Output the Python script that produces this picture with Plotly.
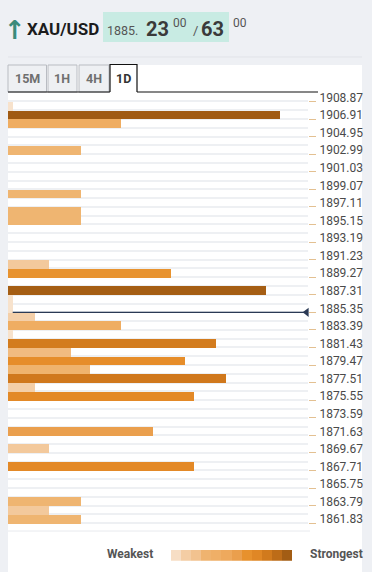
import plotly.graph_objects as go

W, H = 372, 572

# ---------------- data ----------------
# price levels (row centres) and their confluence strength
levels = [1908.38, 1907.40, 1906.42, 1903.48, 1898.58, 1896.62, 1895.64,
          1890.74, 1889.76, 1887.80, 1886.82, 1885.84, 1884.86, 1883.88,
          1882.90, 1881.92, 1880.94, 1879.96, 1878.98, 1878.00, 1877.02,
          1876.04, 1872.12, 1870.16, 1868.20, 1864.28, 1863.30, 1862.32]
strength = [1, 60, 25, 16, 16, 16, 16,
            9, 36, 57, 1, 1, 6, 25,
            1, 46, 14, 39, 18, 48, 6,
            41, 32, 9, 41, 16, 9, 16]

tick_prices = [1908.87, 1906.91, 1904.95, 1902.99, 1901.03, 1899.07, 1897.11,
               1895.15, 1893.19, 1891.23, 1889.27, 1887.31, 1885.35, 1883.39,
               1881.43, 1879.47, 1877.51, 1875.55, 1873.59, 1871.63, 1869.67,
               1867.71, 1865.75, 1863.79, 1861.83]
tick_labels = ["1908.87", "1906.91", "1904.95", "1902.99", "1901.03", "1899.07",
               "1897.11", "1895.15", "1893.19", "1891.23", "1889.27", "1887.31",
               "1885.35", "1883.39", "1881.43", "1879.47", "1877.51", "1875.55",
               "1873.59", "1871.63", "1869.67", "1867.71", "1865.75", "1863.79",
               "1861.83"]
current_price = 1885.35
legend_levels = [2, 7, 12, 17, 22, 27, 32, 37, 42, 47, 52, 58]

symbol = "XAU/USD"
bid_big, bid_small = "1885.", "23"
ask_big = "63"
tabs = ["15M", "1H", "4H", "1D"]

# ---------------- style ----------------
colorscale = [
    [0.00, "#f8e6d3"], [0.10, "#f4cfa8"], [0.20, "#f2c28f"], [0.27, "#efb470"],
    [0.42, "#efad62"], [0.53, "#eaa04e"], [0.60, "#e8932f"], [0.68, "#e48a27"],
    [0.77, "#d27b1e"], [0.80, "#d0781c"], [0.95, "#a55e14"], [1.00, "#a05a13"],
]
CMIN, CMAX = 0, 60
FONT = "Roboto"


def px(x):
    return x / W


def py(y):
    return 1 - y / H


fig = go.Figure()

fig.add_trace(go.Bar(
    x=strength, y=levels, orientation="h", width=0.98,
    marker=dict(color=strength, colorscale=colorscale, cmin=CMIN, cmax=CMAX,
                line=dict(width=0)),
    hoverinfo="skip", showlegend=False,
))

# current price marker (arrow at right end of line)
fig.add_trace(go.Scatter(
    x=[65.9], y=[current_price], mode="markers",
    marker=dict(symbol="triangle-left", size=8, color="#2b3a55"),
    cliponaxis=False, hoverinfo="skip", showlegend=False,
))

# legend gradient
fig.add_trace(go.Heatmap(
    z=[legend_levels], x=list(range(len(legend_levels))), y=[0],
    colorscale=colorscale, zmin=CMIN, zmax=CMAX, showscale=False,
    xaxis="x2", yaxis="y2", hoverinfo="skip",
))

shapes = []
# white panel
shapes.append(dict(type="rect", xref="paper", yref="paper", layer="below",
                   x0=px(8), x1=px(362), y0=py(572), y1=py(65),
                   fillcolor="white", line=dict(width=0)))
# header separator
shapes.append(dict(type="line", xref="paper", yref="paper",
                   x0=px(8), x1=px(362), y0=py(57), y1=py(57),
                   line=dict(color="#e1e3e8", width=1)))
# price box
shapes.append(dict(type="rect", xref="paper", yref="paper",
                   x0=px(103), x1=px(229), y0=py(42), y1=py(12),
                   fillcolor="#c8ebe3", line=dict(width=0)))
# tabs
tab_x = [(8, 46.5), (48, 77), (79, 109), (110, 137)]
for i, (a, b) in enumerate(tab_x[:3]):
    shapes.append(dict(type="rect", xref="paper", yref="paper",
                       x0=px(a), x1=px(b), y0=py(92), y1=py(65),
                       fillcolor="#eef0f3", line=dict(color="#b9bcc2", width=1)))
a, b = tab_x[3]
shapes.append(dict(type="path", xref="paper", yref="paper",
                   path=f"M {px(a)},{py(92)} L {px(a)},{py(64.5)} L {px(b)},{py(64.5)} L {px(b)},{py(92)}",
                   line=dict(color="#111", width=1.2)))
shapes.append(dict(type="line", xref="paper", yref="paper",
                   x0=px(8), x1=px(110), y0=py(92), y1=py(92),
                   line=dict(color="#111", width=1.2)))
shapes.append(dict(type="line", xref="paper", yref="paper",
                   x0=px(137), x1=px(318), y0=py(92), y1=py(92),
                   line=dict(color="#111", width=1.2)))
# current price line
shapes.append(dict(type="line", xref="paper", yref="y",
                   x0=px(12.7), x1=px(305), y0=current_price, y1=current_price,
                   line=dict(color="#2b3a55", width=1.2)))
# bottom separator
shapes.append(dict(type="line", xref="paper", yref="paper",
                   x0=px(8), x1=px(310), y0=py(531), y1=py(531),
                   line=dict(color="#e8eaee", width=1)))

ann = []


def text(t, x, y, size, color, bold=False, anchor="left", family=FONT):
    ann.append(dict(text=f"<b>{t}</b>" if bold else t, x=px(x), y=py(y),
                    xref="paper", yref="paper", xanchor=anchor, yanchor="middle",
                    showarrow=False, font=dict(family=family, size=size, color=color)))


text("↑", 15, 30, 26, "#3b8b7b", bold=True, anchor="center", family="DejaVu Sans")
text(symbol, 25, 29.5, 17, "#1c1c1c", bold=True)
text(bid_big, 105, 31, 12.5, "#555555")
text(bid_small, 144, 29, 20, "#3a3a3a", bold=True)
text("00", 171, 23.5, 12, "#555555")
text("/", 191, 31, 13, "#555555")
text(ask_big, 199, 29, 20, "#3a3a3a", bold=True)
text("00", 231, 23.5, 12, "#555555")

tab_centers = [27.3, 62.5, 94, 123.5]
for t, cx in zip(tabs, tab_centers):
    text(t, cx, 78.5, 12.5, "#333333" if t == "1D" else "#6f6f6f", bold=True, anchor="center")

text("Weakest", 130, 553.5, 12, "#555555", bold=True, anchor="center")
text("Strongest", 336, 553.5, 12, "#555555", bold=True, anchor="center")

fig.update_layout(
    width=W, height=H,
    margin=dict(l=0, r=0, t=0, b=0, pad=0),
    paper_bgcolor="#eef0f4", plot_bgcolor="white",
    bargap=0, barmode="overlay",
    shapes=shapes, annotations=ann,
    xaxis=dict(domain=[px(8), px(308)], range=[0, 66.2], visible=False, fixedrange=True),
    yaxis=dict(domain=[py(527.6), py(92.7)], range=[1861.34, 1909.85],
               side="right", tickvals=tick_prices, ticktext=tick_labels,
               ticks="outside", ticklen=7, tickwidth=1, tickcolor="#e3c091",
               ticklabelshift=-4, ticklabelstandoff=1,
               tickfont=dict(family=FONT, size=12, color="#4a4a4a"),
               showgrid=True, gridcolor="#eef0f3", gridwidth=1.5,
               minor=dict(tick0=1861.83, dtick=0.98, showgrid=True,
                          gridcolor="#eef0f3", gridwidth=1.5, ticks=""),
               zeroline=False, showline=False, automargin=False, fixedrange=True),
    xaxis2=dict(domain=[px(171), px(292)], anchor="y2", visible=False,
                range=[-0.5, len(legend_levels) - 0.5]),
    yaxis2=dict(domain=[py(560.7), py(550)], anchor="x2", visible=False,
                range=[-0.5, 0.5]),
)

fig.write_html(
    "out.html",
    config={"displayModeBar": False},
    post_script="document.body.style.margin='0';document.body.style.overflow='hidden';",
)
